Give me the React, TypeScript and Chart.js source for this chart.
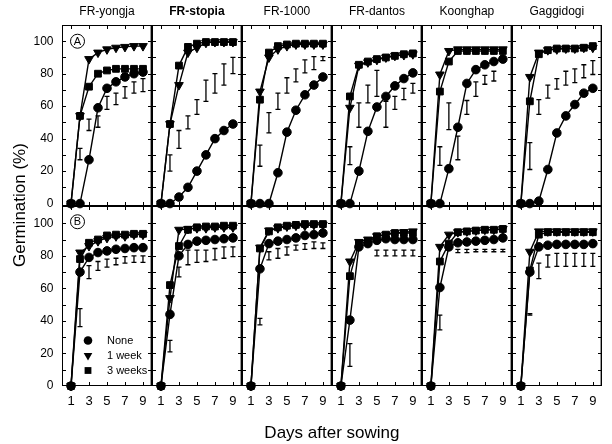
import React, { useEffect, useRef } from "react";
import { Chart, registerables } from "chart.js";
Chart.register(...registerables);

const FONT = 'Arial, "Liberation Sans", Helvetica, sans-serif';

const days = [1, 2, 3, 4, 5, 6, 7, 8, 9];
const cultivars = ["FR-yongja", "FR-stopia", "FR-1000", "FR-dantos", "Koonghap", "Gaggidogi"];
const treatments = ["None", "1 week", "3 weeks"];
const rowLabels = ["A", "B"];
const yTickValues = [0, 20, 40, 60, 80, 100];
const xTickValues = [1, 3, 5, 7, 9];

// ---- Row A ----
const yongjaA_none = [0, 0, 27, 59, 71, 75, 78, 80, 81];
const yongjaA_1w = [0, 54, 89, 93, 95, 96, 96.5, 97, 97];
const yongjaA_3w = [0, 54, 72, 80, 82, 83, 83, 83, 83];
const yongjaA_lo = [null, 27, 45, 47, 58, 61, 65, 68, 69];
const yongjaA_hi = [null, 34, 52, 54, 66, 68, 72, 75, 77];

const stopiaA_none = [0, 0, 4, 10, 20, 30, 40, 45, 49];
const stopiaA_1w = [0, 49, 73, 93, 96, 99, 99.5, 99.5, 99.5];
const stopiaA_3w = [0, 49, 85, 96.5, 98.5, 99.5, 99.5, 99.5, 99.5];
const stopiaA_lo = [null, 20, 34, 46, 55, 63, 68, 73, 80];
const stopiaA_hi = [null, 30, 45, 54, 64, 76, 80, 86, 90];

const fr1000A_none = [0, 0, 0, 19, 44, 57.5, 67, 73, 78];
const fr1000A_1w = [0, 69, 90, 95, 97, 98, 98, 98, 98];
const fr1000A_3w = [0, 64, 93, 97, 98, 98.5, 98.5, 98.5, 98.5];
const fr1000A_lo = [null, 23, 43.5, 58, 68, 75, 80.5, 82.5, 88];
const fr1000A_hi = [null, 36, 56, 68, 77.5, 83, 88.5, 90.5, 90.5];

const dantosA_none = [0, 0, 20, 44.5, 59.5, 66, 72.5, 77, 80.5];
const dantosA_1w = [0, 59, 85, 87, 88.5, 90, 91, 91.5, 92];
const dantosA_3w = [0, 66, 85.5, 87.5, 89, 90, 91, 92, 92.5];
const dantosA_lo = [null, 24, 47, 62, 66, 47, 58, 64, 68];
const dantosA_hi = [null, 35, 62, 73, 82, 63, 66, 71, 74];

const koonghapA_none = [0, 0, 21.5, 47, 74, 82.5, 85.5, 87.5, 89];
const koonghapA_1w = [0, 79.5, 94, 95, 95, 95, 95, 95, 95];
const koonghapA_3w = [0, 69, 87.5, 94, 94, 94, 94, 94, 94];
const koonghapA_lo = [null, 23.5, 45.5, 27, 55, 66, 73.5, 75.5, null];
const koonghapA_hi = [null, 35, 62, 41.5, 63.5, 75, 79, 81.5, null];

const gaggidogiA_none = [0, 0, 1.5, 21, 43.5, 54, 61, 68, 71];
const gaggidogiA_1w = [0, 78, 93, 94.5, 95, 95.5, 95.5, 96, 96];
const gaggidogiA_3w = [0, 63, 92, 94.5, 95.5, 95.5, 95.5, 96, 97];
const gaggidogiA_lo = [null, 21, 55, 65, 70.5, 73, 74.5, 77.5, 79.5];
const gaggidogiA_hi = [null, 37.5, 64, 73, 77, 81.5, 83, 85.5, 88];

// ---- Row B ----
const yongjaB_none = [0, 70, 79, 82, 83, 84, 84.5, 85, 85];
const yongjaB_1w = [0, 82, 86, 89, 91, 92, 92, 93, 93];
const yongjaB_3w = [0, 78, 88, 90, 92.5, 93, 93, 93.5, 93.5];
const yongjaB_lo = [null, 36.5, 66, 71, 73, 74.5, 75.5, 76, 76];
const yongjaB_hi = [null, 47.5, 74, 76.5, 78, 78.5, 79.5, 80, 80];

const stopiaB_none = [0, 44, 80, 87, 89, 89.5, 90, 90.5, 91];
const stopiaB_1w = [0, 54, 96, 96.5, 97, 97, 97.5, 97.5, 97.5];
const stopiaB_3w = [0, 62, 86, 96, 97.5, 98, 98, 98.5, 98.5];
const stopiaB_lo = [null, 21, 67, 74.5, 76, 76.5, 77.5, 78.5, 79.5];
const stopiaB_hi = [null, 28, 73, 83.5, 83.5, 83.5, 84.5, 85.5, 85.5];

const fr1000B_none = [0, 72, 87.5, 89, 90, 91, 92.5, 93, 94];
const fr1000B_1w = [0, 85, 95.5, 97, 98, 98.5, 98.5, 99, 99];
const fr1000B_3w = [0, 84.5, 95, 97.5, 98.5, 99, 99.5, 99.5, 99.5];
const fr1000B_lo = [null, 37.5, 77.5, 78.5, 80.5, 83.5, 84, 84.5, 84.5];
const fr1000B_hi = [null, 41.5, 82.5, 84.5, 85.5, 86.5, 87.5, 88.5, 88];

const dantosB_none = [0, 40.5, 85.5, 87.5, 89.5, 90.5, 90, 90, 90];
const dantosB_1w = [0, 76.5, 88.5, 90, 92, 93, 94, 94.5, 95];
const dantosB_3w = [0, 67.5, 87.5, 88.5, 92, 93, 94, 94, 94];
const dantosB_lo = [null, 12, null, null, 80, 80, 80, 80, 80];
const dantosB_hi = [null, 26, null, null, 83.5, 83.5, 83.5, 83.5, 83.5];

const koonghapB_none = [0, 60.5, 85.5, 88, 88.5, 89, 89.5, 90, 91];
const koonghapB_1w = [0, 85.5, 93, 94.5, 95, 95.5, 96, 96, 96.5];
const koonghapB_3w = [0, 76.5, 87.5, 94.5, 95, 95.5, 96, 96, 96.5];
const koonghapB_lo = [null, 34.5, null, 82, 82, 82.5, 82.5, 82.5, 82.5];
const koonghapB_hi = [null, 43.5, null, 84, 84, 84, 84, 84, 84];

const gaggidogiB_none = [0, 70, 85.5, 86.5, 87, 87, 87, 87, 87.5];
const gaggidogiB_1w = [0, 82.5, 95, 95, 95, 95, 95, 95, 95];
const gaggidogiB_3w = [0, 71, 93, 94.5, 94.5, 94.5, 94.5, 94.5, 94.5];
const gaggidogiB_lo = [null, 43.5, 66, 73, 73.5, 73.5, 73.5, 73.5, 73.5];
const gaggidogiB_hi = [null, 44.5, 75.5, 80.5, 81.5, 81.5, 81.5, 81.5, 81.5];

const seriesTable = [
  [
    [yongjaA_none, yongjaA_1w, yongjaA_3w],
    [stopiaA_none, stopiaA_1w, stopiaA_3w],
    [fr1000A_none, fr1000A_1w, fr1000A_3w],
    [dantosA_none, dantosA_1w, dantosA_3w],
    [koonghapA_none, koonghapA_1w, koonghapA_3w],
    [gaggidogiA_none, gaggidogiA_1w, gaggidogiA_3w],
  ],
  [
    [yongjaB_none, yongjaB_1w, yongjaB_3w],
    [stopiaB_none, stopiaB_1w, stopiaB_3w],
    [fr1000B_none, fr1000B_1w, fr1000B_3w],
    [dantosB_none, dantosB_1w, dantosB_3w],
    [koonghapB_none, koonghapB_1w, koonghapB_3w],
    [gaggidogiB_none, gaggidogiB_1w, gaggidogiB_3w],
  ],
];
const barTable = [
  [
    [yongjaA_lo, yongjaA_hi],
    [stopiaA_lo, stopiaA_hi],
    [fr1000A_lo, fr1000A_hi],
    [dantosA_lo, dantosA_hi],
    [koonghapA_lo, koonghapA_hi],
    [gaggidogiA_lo, gaggidogiA_hi],
  ],
  [
    [yongjaB_lo, yongjaB_hi],
    [stopiaB_lo, stopiaB_hi],
    [fr1000B_lo, fr1000B_hi],
    [dantosB_lo, dantosB_hi],
    [koonghapB_lo, koonghapB_hi],
    [gaggidogiB_lo, gaggidogiB_hi],
  ],
];

const rowIds = ["yA", "yB"];
const markerStyles = [
  { pointStyle: "circle", pointRadius: 4.3, rotation: 0 },
  { pointStyle: "triangle", pointRadius: 5, rotation: 180 },
  { pointStyle: "rect", pointRadius: 4.8, rotation: 0 },
];

function buildDatasets() {
  const out: any[] = [];
  rowIds.forEach((rowId, r) => {
    cultivars.forEach((cv, c) => {
      treatments.forEach((t, k) => {
        const vals = seriesTable[r][c][k];
        const m = markerStyles[k];
        out.push({
          label: `${cv} ${rowLabels[r]} ${t}`,
          data: days.map((d, i) => ({ x: d, y: vals[i] })),
          xAxisID: "x" + c,
          yAxisID: rowId,
          borderColor: "#000",
          backgroundColor: "#000",
          borderWidth: 1.4,
          pointStyle: m.pointStyle,
          pointRadius: m.pointRadius,
          rotation: m.rotation,
          pointBorderWidth: 1,
          pointBorderColor: "#000",
          pointBackgroundColor: "#000",
          tension: 0,
          clip: false,
        });
      });
    });
  });
  return out;
}

function buildScales() {
  const scales: any = {};
  cultivars.forEach((_, c) => {
    scales["x" + c] = {
      type: "linear",
      axis: "x",
      position: "bottom",
      stack: "cols",
      stackWeight: 1,
      min: 0,
      max: 10,
      afterBuildTicks: (s: any) => {
        s.ticks = xTickValues.map((v) => ({ value: v }));
      },
      afterFit: (s: any) => {
        s.height = 30;
      },
      grid: { display: false, drawTicks: false },
      border: { display: false },
      ticks: {
        color: "#000",
        font: { family: FONT, size: 13 },
        padding: 8,
        maxRotation: 0,
        autoSkip: false,
      },
    };
  });
  const yCommon = {
    type: "linear",
    axis: "y",
    position: "left",
    stack: "rows",
    afterBuildTicks: (s: any) => {
      s.ticks = yTickValues.map((v) => ({ value: v }));
    },
    afterFit: (s: any) => {
      s.width = 40;
    },
    grid: { display: false, drawTicks: false },
    border: { display: false },
    ticks: {
      color: "#000",
      font: { family: FONT, size: 12 },
      padding: 8.5,
      autoSkip: false,
    },
  };
  // left-side stacked axes are placed in reverse order of definition,
  // so the bottom row axis is defined first
  scales.yB = { ...yCommon, stackWeight: 180, min: 0, max: 110.6 };
  scales.yA = { ...yCommon, stackWeight: 181, min: -1.5, max: 110 };
  return scales;
}

const panelPlugin = {
  id: "panelDecor",
  beforeDatasetsDraw(chart: any) {
    const ctx = chart.ctx;
    ctx.save();
    rowIds.forEach((rowId, r) => {
      const ys = chart.scales[rowId];
      cultivars.forEach((_, c) => {
        const xs = chart.scales["x" + c];
        const L = Math.round(xs.left);
        const R = Math.round(xs.right);
        const T = Math.round(ys.top);
        const B = Math.round(ys.bottom);
        // frame
        ctx.strokeStyle = "#000";
        ctx.lineWidth = 1;
        ctx.strokeRect(L + 0.5, T + 0.5, R - L - 1, B - T - 1);
        ctx.strokeStyle = "#9a9a9a";
        ctx.beginPath();
        ctx.moveTo(R - 1.5, T + 1);
        ctx.lineTo(R - 1.5, B - 1);
        ctx.stroke();
        // inward ticks
        ctx.strokeStyle = "#000";
        ctx.lineWidth = 1;
        ctx.beginPath();
        xTickValues.forEach((v) => {
          const px = Math.round(xs.getPixelForValue(v)) + 0.5;
          ctx.moveTo(px, T + 1);
          ctx.lineTo(px, T + 4);
          ctx.moveTo(px, B - 1);
          ctx.lineTo(px, B - 4);
        });
        for (let v = 10; v <= 100; v += 10) {
          const py = Math.round(ys.getPixelForValue(v)) + 0.5;
          ctx.moveTo(L + 1, py);
          ctx.lineTo(L + 4, py);
          ctx.moveTo(R - 1, py);
          ctx.lineTo(R - 4, py);
        }
        ctx.stroke();
        // error bars
        const [lo, hi] = barTable[r][c];
        ctx.lineWidth = 1.3;
        ctx.beginPath();
        days.forEach((d, i) => {
          const a = lo[i];
          const b = hi[i];
          if (a == null || b == null) return;
          const px = xs.getPixelForValue(d);
          const y1 = ys.getPixelForValue(a);
          const y2 = ys.getPixelForValue(b);
          ctx.moveTo(px, y1);
          ctx.lineTo(px, y2);
          ctx.moveTo(px - 2.5, y1);
          ctx.lineTo(px + 2.5, y1);
          ctx.moveTo(px - 2.5, y2);
          ctx.lineTo(px + 2.5, y2);
        });
        ctx.stroke();
      });
    });
    ctx.restore();
  },
  afterDraw(chart: any) {
    const ctx = chart.ctx;
    const area = chart.chartArea;
    ctx.save();
    ctx.fillStyle = "#000";
    // column titles
    ctx.textAlign = "center";
    ctx.textBaseline = "middle";
    cultivars.forEach((cv, c) => {
      const xs = chart.scales["x" + c];
      ctx.font = `${c === 1 ? "bold " : ""}12px ${FONT}`;
      ctx.fillText(cv, (xs.left + xs.right) / 2, 12);
    });
    // circled row labels
    rowIds.forEach((rowId, r) => {
      const ys = chart.scales[rowId];
      const xs = chart.scales["x0"];
      const cx = xs.left + 15.5;
      const cy = ys.getPixelForValue(100) - (r === 0 ? 0 : 1.5);
      ctx.beginPath();
      ctx.lineWidth = 1;
      ctx.strokeStyle = "#000";
      ctx.arc(cx, cy, 7, 0, Math.PI * 2);
      ctx.stroke();
      ctx.font = `11px ${FONT}`;
      ctx.fillText(rowLabels[r], cx, cy + 0.5);
    });
    // legend inside first bottom panel
    {
      const xs = chart.scales["x0"];
      const ys = chart.scales["yB"];
      const mx = xs.left + 26;
      const tx = xs.left + 45;
      treatments.forEach((t, k) => {
        const my = ys.bottom - 45.5 + k * 15;
        const m = markerStyles[k];
        ctx.fillStyle = "#000";
        ctx.beginPath();
        if (k === 0) {
          ctx.arc(mx, my, 4.3, 0, Math.PI * 2);
        } else if (k === 1) {
          const r0 = m.pointRadius;
          ctx.moveTo(mx, my + r0);
          ctx.lineTo(mx - r0 * 0.866, my - r0 * 0.5);
          ctx.lineTo(mx + r0 * 0.866, my - r0 * 0.5);
          ctx.closePath();
        } else {
          ctx.rect(mx - 3.4, my - 3.4, 6.8, 6.8);
        }
        ctx.fill();
        ctx.font = `11px ${FONT}`;
        ctx.textAlign = "left";
        ctx.textBaseline = "middle";
        ctx.fillText(t, tx, my);
      });
    }
    // axis titles
    ctx.textAlign = "center";
    ctx.textBaseline = "middle";
    ctx.font = `17px ${FONT}`;
    ctx.fillText("Days after sowing", (area.left + area.right) / 2, 433);
    ctx.save();
    ctx.translate(20, 205);
    ctx.rotate(-Math.PI / 2);
    ctx.fillText("Germination (%)", 0, 0);
    ctx.restore();
    ctx.restore();
  },
};

export default function App() {
  const ref = useRef<HTMLCanvasElement>(null);
  useEffect(() => {
    if (!ref.current) return;
    const chart = new Chart(ref.current, {
      type: "line",
      data: { datasets: buildDatasets() },
      options: {
        responsive: false,
        animation: false,
        devicePixelRatio: 1,
        layout: { padding: { left: 22, right: 1, top: 25, bottom: 28 } },
        plugins: { legend: { display: false }, tooltip: { enabled: false } },
        scales: buildScales(),
      } as any,
      plugins: [panelPlugin],
    } as any);
    return () => chart.destroy();
  }, []);
  return (
    <div style={{ position: "absolute", left: 0, top: 0, width: 612, height: 444, background: "#fff" }}>
      <canvas ref={ref} width={612} height={444} style={{ display: "block", width: 612, height: 444 }} />
    </div>
  );
}
